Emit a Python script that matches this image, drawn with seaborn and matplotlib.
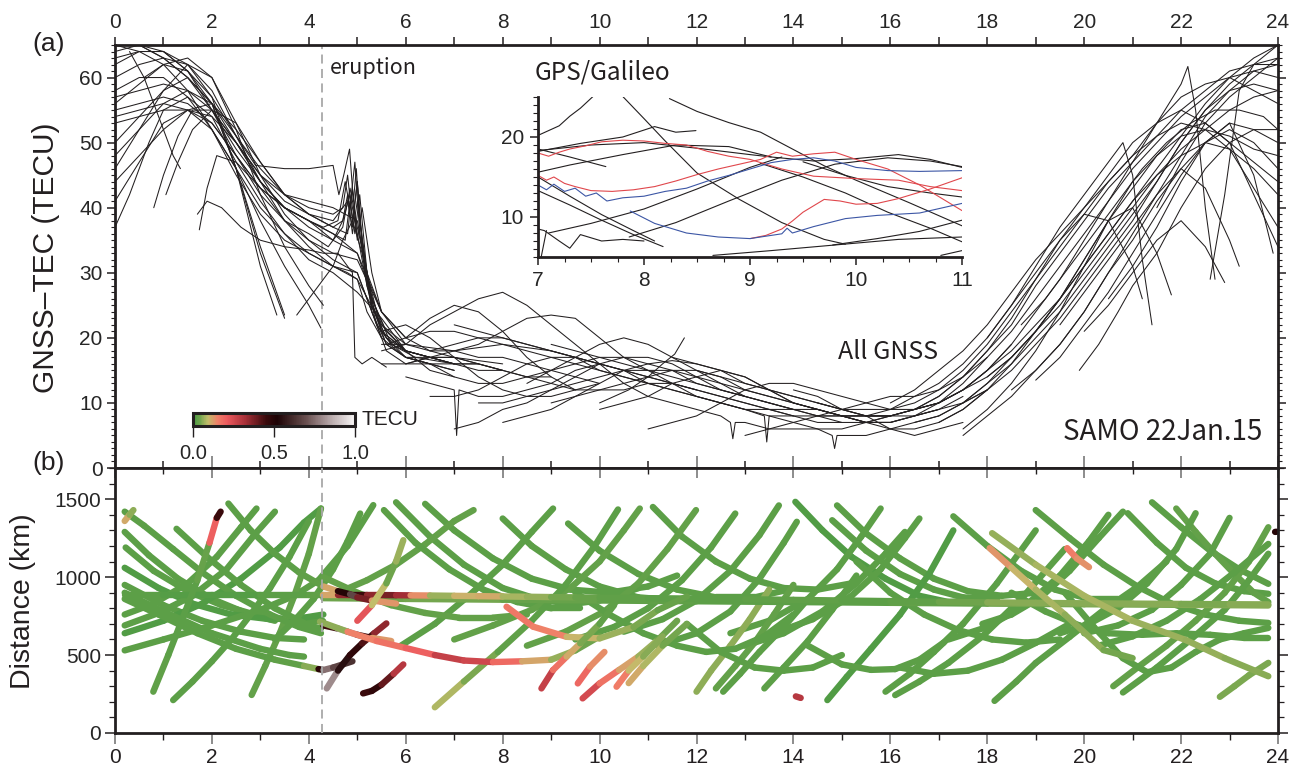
import matplotlib
matplotlib.use("Agg")
import numpy as np
import pandas as pd
import matplotlib.pyplot as plt
import seaborn as sns
from matplotlib.colors import LinearSegmentedColormap, Normalize
from matplotlib.collections import LineCollection
from matplotlib.ticker import MultipleLocator
from matplotlib.colorbar import ColorbarBase

sns.set_theme(style="ticks")
plt.rcParams['font.family'] = ['Liberation Sans', 'DejaVu Sans']

INK = '#231f20'
ERUPTION_UT = 4.27
TICK_FS = 15

# ---------------- (a) GNSS-TEC, all satellites (hour UT, TECU) ----------------
tec_night = [
    ([0, .5, 1, 1.5, 2, 2.5, 3, 3.5, 4, 4.3, 4.6, 4.75, 4.85, 4.95, 5.05, 5.2, 5.4, 5.7, 6, 6.5, 7, 7.5],
     [65, 65, 63, 60, 55, 49, 44, 40, 38, 37, 38, 44, 40, 47, 36, 28, 22, 19, 18, 17, 16, 16]),
    ([0, .5, 1, 1.5, 2, 2.5, 3, 3.5, 4, 4.4, 4.7, 4.85, 5.0, 5.15, 5.35, 5.6, 6, 6.5, 7, 7.5, 8],
     [62, 64, 64, 61, 55, 48, 42, 38, 36, 34, 37, 43, 37, 32, 24, 20, 18, 17, 17, 16, 15]),
    ([0, .5, 1, 1.5, 2, 2.5, 3, 3.5], [56, 59, 62, 61, 56, 46, 34, 23.5]),
    ([0, .5, 1, 1.5, 2, 2.5, 3, 3.34], [50, 54, 58, 60, 56, 46, 31, 23.5]),
    ([0, .5, 1, 1.5, 2, 2.5, 3, 3.5, 4, 4.25], [54, 55, 56, 55, 52, 46, 38, 31, 25, 21.5]),
    ([0, .5, 1, 1.5, 2, 2.5, 3, 3.5, 4, 4.5, 4.8, 5.0, 5.2, 5.5, 6, 6.5, 7],
     [58, 60, 60, 57, 52, 46, 40, 36, 33, 31, 30, 29, 24, 20, 17, 16, 15]),
    ([0, .5, 1, 1.5, 2, 2.5, 3, 3.5, 4, 4.5, 4.7, 4.8, 4.9, 5.0, 5.2, 5.5, 6, 6.5, 7, 7.5, 8, 8.5, 9],
     [53, 54, 55, 55, 54, 50, 44, 40, 37, 35, 38, 42, 36, 41, 30, 21, 18, 17, 16, 16, 15, 14, 14]),
    ([0, .3, .7, 1, 1.5, 2, 2.5, 3, 3.5, 4, 4.5, 5, 5.5, 6, 6.5, 7],
     [37, 42, 50, 55, 57, 54, 47, 41, 36, 32, 30, 27, 23, 18, 15, 14]),
    ([0, .5, 1, 1.5, 2, 2.5, 3, 3.5, 4, 4.5, 5, 5.5, 6], [41, 47, 53, 55, 53, 48, 43, 40, 38, 35, 33, 24, 19]),
    ([0, .5, 1, 1.5, 2, 2.5, 3, 3.5, 4, 4.5, 4.7, 4.8, 4.9, 5.0, 5.1, 5.3, 5.6, 6, 6.5],
     [44, 48, 52, 55, 56, 52, 47, 42, 40, 39, 40, 45, 38, 44, 35, 25, 19, 17, 17]),
    ([0, .5, 1, 1.5, 2, 2.5, 3, 3.5, 4, 4.5, 5, 5.3, 5.7, 6.2, 7],
     [48, 52, 56, 58, 56, 50, 45, 42, 41, 40, 38, 26, 19, 17, 16]),
    ([0, .5, 1, 1.5, 2, 2.5, 2.9, 3.5, 4, 4.5, 4.62, 4.72, 4.84, 4.92, 4.98, 5.05, 5.15, 5.3, 5.6, 6, 6.5, 7],
     [64, 65, 63, 60, 56, 51, 46.5, 46, 46, 46.5, 42, 45, 49, 41, 46, 38, 32, 26, 21, 18, 17, 16]),
    ([.3, .6, .9, 1.2, 1.35], [64, 60, 54, 48, 46]),
    ([.8, 1.0, 1.3, 1.6, 2, 2.5, 3, 3.5, 4, 4.5, 5, 5.5, 6], [40, 45, 51, 55, 55, 50, 44, 40, 38, 36, 33, 22, 18]),
    ([1.05, 1.3, 1.6, 2, 2.5, 3, 3.5, 4, 4.5, 4.8, 4.9, 5.0, 5.1, 5.3, 5.5],
     [42, 47, 52, 55, 53, 47, 42, 39, 37, 36, 43, 35, 40, 30, 24]),
    ([1.74, 1.9, 2.1, 2.5, 3, 3.5, 4, 4.5, 4.75, 4.85, 4.95, 5.05, 5.2, 5.5, 6],
     [36.6, 43, 48, 47, 43, 40, 38, 36, 35, 41, 36, 42, 30, 24, 20]),
    ([1.7, 1.9, 2.2, 2.6, 3, 3.5, 4, 4.3, 4.6, 4.9, 4.95, 5.1, 5.3, 5.6],
     [39, 41, 40, 37, 35, 34, 33.5, 33, 33, 30, 17, 16, 17, 15.5]),
    ([0, .5, 1, 1.5, 2, 2.5, 3, 3.5], [63, 64, 64, 62, 57, 46, 33, 23]),
    ([3.75, 4.0, 4.3, 4.5, 4.7, 4.9, 5.1, 5.3, 5.6, 6, 6.5, 7], [23.5, 26, 29, 31, 35, 38, 33, 25, 20, 17, 16, 15]),
    ([0, .5, 1, 1.5, 2, 2.5, 3, 3.5, 4, 4.5, 4.7, 4.85, 5.0, 5.2, 5.5, 6, 6.5, 7, 7.5, 8],
     [65, 65, 64, 61, 57, 51, 46, 42, 39, 37, 38, 42, 36, 28, 21, 18, 17, 16, 15, 15]),
    ([0, .5, 1, 1.5, 2, 2.5, 3, 3.5, 4, 4.5, 5, 5.5, 6, 6.5, 7, 7.5, 8, 8.5, 9, 9.5, 10],
     [55, 56, 57, 56, 53, 48, 43, 38, 34, 31, 29, 22, 19, 18, 18, 17, 17, 16, 15, 14, 13]),
    ([0, .5, 1, 1.5, 2, 2.5, 3, 3.5, 4, 4.5, 5, 5.5], [65, 64, 62, 58, 52, 45, 39, 35, 33, 31, 30, 20]),
    ([0, .5, 1, 1.5, 2, 2.5, 3, 3.5, 4, 4.5, 5, 5.5, 6, 6.5, 7, 8],
     [60, 62, 63, 62, 58, 51, 44, 38, 35, 33, 32, 24, 20, 18, 17, 16]),
    ([0, .5, 1, 1.5, 2, 2.5, 3, 3.5, 4, 4.5, 4.8, 4.9, 5.0, 5.1, 5.3, 5.6, 6, 6.5],
     [57, 58, 59, 58, 55, 50, 45, 41, 39, 38, 41, 37, 44, 34, 24, 18, 16, 16]),
    ([.6, 1, 1.5, 2, 2.5, 3, 3.5, 4, 4.5, 5, 5.3, 5.6, 6, 6.5, 7],
     [60, 62, 63, 60, 53, 45, 39, 35, 32, 30, 24, 19, 17, 16, 16]),
    ([0, .5, 1, 1.5, 2, 2.5, 3, 3.5, 4, 4.3], [46, 52, 58, 62, 60, 52, 42, 34, 28, 25]),
]

tec_day = [
    ([5.5, 6, 6.5, 7, 7.5, 8, 8.5, 9, 9.5, 10, 10.5, 11, 11.5, 12],
     [18, 19, 22, 24, 26, 27, 25, 22, 19, 16, 13, 11, 10, 9]),
    ([5.6, 6, 6.5, 7, 7.5, 8, 8.5, 9, 9.5], [19, 20, 23, 25, 24, 21, 17, 14, 12]),
    ([6, 6.5, 7, 7.5, 8, 8.5, 9, 9.5, 10, 10.5, 11, 11.5, 12, 12.5, 13],
     [16, 17, 18, 19, 21, 23, 23.5, 23, 20, 17, 15, 13, 11, 10, 9]),
    ([5.5, 6, 6.5, 7, 7.5, 8, 8.5, 9, 9.5, 10, 10.5, 11, 11.5, 12, 12.5, 13, 13.5, 14],
     [19, 19, 18.5, 18, 18.5, 19, 18.5, 18, 17, 16, 15, 14, 13, 12, 11, 10, 9, 9]),
    ([10.0, 10.3, 10.6, 11.0, 11.3, 11.55, 11.75], [10, 11, 12, 14, 16, 17.5, 20]),
    ([5.5, 6, 6.5, 7, 7.5, 8, 8.5, 9, 9.5, 10], [21, 22, 20, 17, 14, 12, 11, 11, 12, 13]),
    ([6.5, 7, 7.5, 8, 8.5, 9, 9.5, 10, 10.5, 11, 11.5, 12, 12.5, 13, 13.5, 14, 14.5, 15],
     [11, 11, 12, 14, 16, 17, 17, 16, 15, 13, 12, 11, 10, 9, 8, 8, 7, 7]),
    ([7, 7.5, 8, 8.5, 9, 9.5, 10, 10.5, 11, 11.5, 12, 12.5, 13, 13.5, 14, 14.5, 15, 15.5, 16],
     [6, 7, 9, 10, 12, 14, 16, 17, 17, 16, 14, 12, 11, 10, 9, 8, 7, 7, 8]),
    ([8, 8.5, 9, 9.5, 10, 10.5, 11, 11.5, 12, 12.5, 13, 13.5, 14, 14.5, 15, 15.5, 16, 16.5, 17],
     [7, 8, 9, 11, 13, 15, 16, 16.5, 16, 15, 14, 12, 10, 9, 8, 7, 7, 8, 9]),
    ([9, 9.5, 10, 10.5, 11, 11.5, 12, 12.5, 13, 13.5, 14, 14.5, 15, 15.5, 16, 16.5, 17, 17.5],
     [19, 18, 17, 16, 15, 15, 14, 13, 12, 11, 10, 9, 8, 7, 7, 8, 9, 11]),
    ([10, 10.5, 11, 11.5, 12, 12.5, 13, 13.5, 14, 14.5, 15, 15.5, 16, 16.5, 17, 17.5, 18],
     [9, 10, 11, 13, 14, 15, 14, 12, 10, 9, 8, 7, 6, 6, 7, 9, 12]),
    ([11, 11.5, 12, 12.5, 13, 13.5, 14, 14.5, 15, 15.5, 16, 16.5, 17, 17.5, 18, 18.5],
     [6, 7, 8, 10, 12, 13, 13, 12, 11, 10, 9, 9, 10, 12, 15, 19]),
    ([12, 12.5, 13, 13.5, 14, 14.5, 15, 15.5, 16, 16.5, 17], [15, 14, 12, 11, 10, 9, 8, 8, 8, 9, 10]),
    ([13, 13.5, 14, 14.5, 15, 15.5, 16, 16.5, 17, 17.5, 18], [5, 6, 7, 8, 9, 10, 11, 11, 12, 14, 17]),
    ([6, 6.5, 7, 7.5, 8, 8.5, 9, 9.5, 10, 10.5, 11, 11.5, 12, 12.5, 13],
     [17, 16, 14, 13, 13, 14, 15, 16, 17, 17, 16, 15, 13, 12, 11]),
    ([7, 7.5, 8, 8.5, 9, 9.5, 10, 10.5, 11, 11.5, 12, 12.5, 13, 13.5, 14, 14.5, 15],
     [22, 21, 20, 19, 18, 17, 16, 15, 14, 13, 12, 11, 10, 9, 8, 8, 8]),
    ([8.5, 9, 9.5, 10, 10.5, 11, 11.5, 12, 12.5, 13, 13.5, 14, 14.5, 15, 15.5, 16],
     [13, 15, 17, 19, 20, 19, 17, 15, 13, 11, 10, 9, 8, 8, 7, 7]),
    ([14, 14.5, 15, 15.5, 16, 16.5, 17, 17.5], [12, 11, 9, 8, 6, 5, 6, 7]),
    ([6, 6.5, 7, 7.05, 7.1, 7.5, 8, 8.5, 9, 9.5, 10], [14, 13, 12, 5, 12, 11, 11, 12, 13, 15, 16]),
    ([12, 12.5, 12.7, 12.75, 12.8, 13, 13.5, 14, 14.5, 15, 15.5, 16], [9, 8, 7, 4.5, 7, 7, 6, 6, 6, 6, 7, 8]),
    ([13, 13.4, 13.45, 13.5, 14, 14.5, 14.8, 14.85, 14.9, 15.5, 16, 16.5, 17],
     [9, 8, 4, 8, 7, 6, 5, 3, 5, 5, 6, 7, 8]),
    ([6, 6.5, 7, 7.5, 8, 8.5, 9, 9.5, 10, 10.5, 11, 11.5, 12, 12.5, 13, 13.5, 14],
     [20, 21, 21, 20, 19, 18, 17, 16, 15, 14, 13, 12, 11, 10, 9, 9, 8]),
    ([5.5, 6, 6.5, 7, 7.5, 8, 8.5, 9, 9.5, 10, 10.5, 11, 11.5, 12],
     [16, 16, 17, 17, 16, 15, 14, 13, 12, 12, 12, 13, 13, 12]),
    ([7.5, 8, 8.5, 9, 9.5, 10, 10.5, 11, 11.5, 12, 12.5, 13, 13.5, 14, 14.5, 15, 15.5, 16, 16.5],
     [10, 10, 11, 12, 13, 14, 15, 15, 14, 13, 12, 11, 10, 9, 9, 8, 8, 8, 9]),
    ([9, 9.5, 10, 10.5, 11, 11.5, 12, 12.5, 13, 13.5, 14, 14.5, 15, 15.5, 16, 16.5, 17, 17.5, 18],
     [10, 11, 12, 13, 14, 15, 15, 14, 13, 12, 11, 10, 9, 8, 8, 8, 9, 10, 12]),
    ([14.5, 15, 15.5, 16, 16.5, 17, 17.5, 18, 18.5], [10, 9, 8, 8, 9, 10, 12, 14, 17]),
    ([11.5, 12, 12.5, 13, 13.5, 14, 14.5, 15, 15.5, 16], [17, 16, 15, 13, 12, 11, 10, 9, 9, 9]),
    ([6.5, 7, 7.5, 8, 8.5, 9, 9.5, 10, 10.5, 11], [18, 19, 20, 20, 19, 18, 17, 15, 14, 13]),
]

tec_evening = [
    ([16, 16.5, 17, 17.5, 18, 18.5, 19, 19.5, 20, 20.5, 21, 21.5, 22, 22.5, 23, 23.5, 24],
     [8, 9, 11, 14, 18, 22, 28, 33, 38, 43, 47, 51, 55, 58, 61, 62, 62]),
    ([15.5, 16, 16.5, 17, 17.5, 18, 18.5, 19, 19.5, 20, 20.5, 21, 21.5, 22, 22.5, 23, 23.5, 24],
     [7, 7, 8, 10, 13, 17, 21, 26, 31, 36, 41, 46, 50, 54, 57, 60, 61, 60]),
    ([16.5, 17, 17.5, 18, 18.5, 19, 19.5, 20, 20.5, 21, 21.5, 22, 22.5, 23, 23.5, 24],
     [7, 8, 10, 13, 17, 21, 26, 31, 36, 41, 46, 51, 56, 60, 63, 65]),
    ([17, 17.5, 18, 18.5, 19, 19.5, 20, 20.5, 21, 21.5, 22, 22.5, 23, 23.5, 24],
     [8, 10, 12, 15, 19, 23, 28, 33, 38, 44, 50, 55, 58, 59, 58]),
    ([17.5, 18, 18.5, 19, 19.5, 20, 20.5, 21, 21.5, 22, 22.5, 23, 23.5, 24],
     [5, 8, 11, 15, 19, 24, 30, 36, 42, 48, 54, 58, 61, 62]),
    ([15, 15.5, 16, 16.5, 17, 17.5, 18, 18.5, 19, 19.5, 20, 20.5, 21, 21.5, 22, 22.5, 23, 23.5, 24],
     [8, 8, 9, 11, 13, 16, 20, 25, 30, 35, 40, 45, 50, 53, 55, 53, 50, 47, 44]),
    ([16, 16.5, 17, 17.5, 18, 18.5, 19, 19.5, 20, 20.5, 21, 21.5, 22, 22.5, 23, 23.5, 24],
     [9, 10, 12, 15, 19, 24, 29, 34, 39, 44, 48, 51, 53, 52, 49, 43, 37]),
    ([18, 18.5, 19, 19.5, 20, 20.5, 20.8, 21, 21.2, 21.4], [20, 25, 31, 37, 42, 47, 50, 45, 32, 22]),
    ([17, 17.5, 18, 18.5, 19, 19.5, 20, 20.5, 21, 21.5, 22, 22.14, 22.3, 22.5, 22.7],
     [10, 12, 15, 19, 24, 29, 35, 41, 47, 53, 59, 61.7, 55, 40, 29]),
    ([19.0, 19.5, 20, 20.5, 21, 21.5, 22, 22.5, 23, 23.5, 24], [13.5, 17, 22, 27, 33, 39, 45, 50, 53, 52, 50]),
    ([19.9, 20.3, 20.7, 21, 21.5, 22, 22.5, 23, 23.5, 24], [15, 19, 24, 28, 33, 40, 46, 50, 52, 52]),
    ([17.5, 18, 18.5, 19, 19.5, 20, 20.5, 21, 21.5, 21.8], [6, 9, 13, 18, 24, 31, 38, 40, 33, 26.6]),
    ([16.5, 17, 17.5, 18, 18.5, 19, 19.5, 20, 20.5, 21, 21.2], [9, 11, 14, 18, 23, 29, 35, 39, 38, 31, 26]),
    ([18.5, 19, 19.5, 20, 20.5, 21, 21.5, 22, 22.5, 23, 23.5, 24], [12, 15, 19, 24, 30, 35, 41, 46, 50, 52, 50, 46]),
    ([20, 20.5, 21, 21.5, 22, 22.5, 22.9], [21, 25, 30, 35, 38, 34, 28.5]),
    ([19.5, 20, 20.5, 21, 21.5, 22, 22.5, 23, 23.2], [22, 27, 32, 37, 42, 46, 43, 35, 31]),
    ([20.5, 21, 21.5, 22, 22.5, 23, 23.5, 23.9], [26, 31, 37, 44, 50, 53, 45, 33]),
    ([21.5, 22, 22.5, 23, 23.5, 24], [40, 47, 53, 57, 60, 63]),
    ([22.6, 22.9, 23.2, 23.5, 24], [29, 42, 58, 62, 65]),
    ([16, 16.5, 17, 17.5, 18, 18.5, 19, 19.5, 20, 20.5, 21, 21.5, 22, 22.5, 23, 23.5, 24],
     [10, 12, 15, 18, 22, 27, 32, 36, 40, 44, 48, 53, 57, 59, 60, 58, 56]),
    ([17, 17.5, 18, 18.5, 19, 19.5, 20, 20.5, 21, 21.5, 22, 22.5, 23, 23.5, 24],
     [7, 9, 12, 16, 21, 26, 32, 38, 43, 48, 52, 53, 50, 42, 34]),
    ([18.5, 19, 19.5, 20, 20.5, 21, 21.5, 22, 22.5, 23, 23.5, 24], [17, 21, 26, 32, 38, 44, 48, 51, 52, 51, 49, 48]),
    ([16.5, 17, 17.5, 18, 18.5, 19, 19.5, 20, 20.5, 21, 21.5, 22, 22.5, 23, 23.5, 24],
     [9, 10, 12, 15, 18, 22, 26, 31, 36, 41, 45, 48, 50, 49, 46, 42]),
    ([17.5, 18, 18.5, 19, 19.5, 20, 20.5, 21, 21.5, 22, 22.5, 23, 23.5, 24],
     [10, 13, 16, 20, 24, 29, 34, 39, 44, 50, 55, 59, 62, 63]),
    ([18, 18.5, 19, 19.5, 20, 20.5, 21, 21.5, 22, 22.5, 23, 23.5, 24],
     [14, 17, 21, 25, 30, 35, 40, 45, 49, 52, 55, 57, 58]),
    ([18.7, 19.2, 19.7, 20.2, 20.7, 21.2, 21.7, 22.2, 22.7, 23.2, 23.7, 24],
     [22, 26, 31, 36, 41, 46, 50, 53, 55, 55, 54, 52]),
]

# ---------------- inset: GPS/Galileo, 7-11 UT ----------------
inset_black = [
    ([7.0, 7.1, 7.2, 7.3, 7.4, 7.53], [20.2, 20.8, 21.4, 22.6, 23.6, 25.2]),
    ([7.79, 8.0, 8.2, 8.5, 8.9, 9.3, 9.7, 9.9], [25.2, 22.3, 19.5, 15.5, 12.2, 9.3, 7.2, 6.6]),
    ([8.24, 8.5, 8.8, 9.1, 9.4, 9.7, 10.0, 10.5, 11.0], [24.8, 23.2, 21.8, 20.6, 18.5, 16.4, 14.6, 11.8, 8.9]),
    ([7.0, 7.4, 7.8, 8.1, 8.3, 8.49], [18.2, 19.2, 20.0, 21.3, 20.6, 20.8]),
    ([7.0, 7.3, 7.64], [18.5, 17.5, 16.3]),
    ([7.0, 7.5, 8.0, 8.5, 9.0, 9.2], [18.3, 19.0, 19.3, 18.6, 17.8, 17.5]),
    ([7.0, 7.3, 7.8, 8.3, 8.8, 9.2, 9.6, 10.0, 10.4, 10.7, 11.0],
     [15.6, 16.5, 17.8, 19.0, 18.8, 17.5, 17.0, 17.3, 17.8, 17.2, 16.2]),
    ([7.0, 7.3, 7.6, 7.9, 8.18], [13.3, 11.5, 9.6, 7.8, 6.3]),
    ([7.0, 7.3, 7.6, 7.9, 8.1], [15.0, 12.6, 10.3, 8.3, 7.0]),
    ([7.0, 7.06, 7.2, 7.3, 7.4, 7.6, 7.8, 8.0], [8.5, 8.3, 7.0, 6.1, 7.8, 7.0, 7.2, 7.0]),
    ([7.03, 7.08], [5.0, 8.3]),
    ([7.1, 7.5, 8.0, 8.5, 9.0, 9.3], [8.0, 9.2, 11.0, 13.5, 16.2, 17.5]),
    ([7.86, 8.3, 8.8, 9.3, 9.8, 10.3, 10.7, 11.0], [7.5, 9.3, 12.0, 14.6, 16.6, 17.4, 17.0, 16.3]),
    ([8.65, 9.2, 9.8, 10.4, 11.0], [5.2, 5.8, 6.5, 7.2, 7.5]),
    ([9.78, 10.2, 10.6, 11.0], [6.5, 7.3, 8.2, 9.6]),
    ([10.8, 11.0], [5.2, 5.8]),
    ([9.1, 9.5, 9.9, 10.3, 10.7, 11.0], [16.7, 15.0, 13.0, 10.6, 8.6, 6.9]),
    ([9.5, 9.9, 10.3, 10.7, 11.0], [16.9, 15.2, 13.8, 13.0, 12.5]),
]
inset_red = [
    ([7.0, 7.1, 7.2, 7.3, 7.45, 7.6, 7.8, 8.0, 8.2, 8.4, 8.6, 8.8, 9.0, 9.3, 9.6, 10.0, 10.4, 10.7, 11.0],
     [18.0, 17.6, 18.1, 18.5, 18.9, 19.4, 19.6, 19.5, 19.2, 19.0, 18.2, 17.6, 17.2, 16.0, 15.1, 14.8, 14.6, 13.8, 13.3]),
    ([7.0, 7.08, 7.15, 7.25, 7.35, 7.5, 7.7, 7.9, 8.1, 8.3, 8.5, 8.7, 8.9, 9.1, 9.25, 9.4, 9.6, 9.8, 10.0, 10.3, 10.6, 11.0],
     [15.2, 14.6, 15.0, 14.2, 13.8, 13.3, 13.2, 13.4, 13.8, 14.5, 15.3, 16.0, 16.6, 17.2, 18.1, 17.6, 17.9, 18.1, 17.2, 16.0, 14.0, 10.8]),
    ([9.0, 9.15, 9.3, 9.4, 9.5, 9.6, 9.7, 9.85, 10.0, 10.2, 10.4, 10.7, 11.0],
     [7.3, 7.7, 8.5, 9.5, 10.6, 11.4, 12.2, 12.0, 11.6, 11.7, 12.3, 13.5, 14.9]),
]
inset_blue = [
    ([7.0, 7.08, 7.15, 7.25, 7.35, 7.45, 7.55, 7.65, 7.8, 8.0, 8.2, 8.4, 8.6, 8.8, 9.0, 9.2, 9.4, 9.6, 9.8, 10.0, 10.3, 10.6, 11.0],
     [14.0, 13.4, 14.1, 13.2, 13.6, 12.6, 13.0, 12.0, 12.4, 12.6, 13.2, 13.6, 14.5, 15.2, 16.0, 16.8, 17.2, 17.4, 17.0, 16.2, 15.8, 15.7, 15.8]),
    ([7.87, 8.1, 8.4, 8.7, 9.0, 9.3, 9.35, 9.4, 9.6, 9.9, 10.2, 10.6, 11.0],
     [10.75, 9.2, 8.0, 7.5, 7.3, 7.9, 8.6, 8.0, 8.8, 9.8, 10.2, 10.5, 11.7]),
]

# ---------------- (b) IPP distance from station (hour UT, km, TEC anomaly) ----------------
ipp_green = [
    ([.2, .7, 1.3, 2.0, 2.7, 3.3], [1290, 1140, 990, 860, 770, 720], .02),
    ([.22, .8, 1.5, 2.2, 3.0, 3.7, 4.3], [1190, 1040, 910, 820, 750, 720, 720], .02),
    ([.2, .9, 1.6, 2.4, 3.2, 3.9, 4.3], [1060, 930, 830, 760, 730, 740, 760], .01),
    ([.2, 1.0, 1.8, 2.6, 3.3, 3.9], [950, 820, 720, 650, 610, 600], .02),
    ([.2, 1.0, 2.0, 3.0, 3.7, 4.2, 4.8, 5.33], [530, 600, 690, 790, 880, 980, 1200, 1462], .02),
    ([.2, 1.0, 1.8, 2.6, 3.4, 3.9, 4.25], [640, 720, 830, 990, 1190, 1350, 1440], .01),
    ([.2, .9, 1.6, 2.3, 2.9, 3.3], [690, 770, 880, 1050, 1280, 1420], .02),
    ([.2, .8, 1.5, 2.1, 2.6, 2.92], [760, 830, 960, 1130, 1320, 1440], .02),
    ([1.2, 1.6, 2.0, 2.4, 2.8, 3.2, 3.6, 4.0], [211, 330, 460, 600, 760, 930, 1130, 1360], .02),
    ([2.82, 3.1, 3.4, 3.7, 4.0, 4.25], [244, 430, 640, 880, 1150, 1440], .03),
    ([1.27, 1.9, 2.6, 3.3, 4.0, 4.25], [1310, 1130, 950, 800, 690, 670], .02),
    ([.2, .6, 1.2, 1.8, 2.5, 3.2, 3.8, 4.25], [1420, 1330, 1180, 1030, 880, 760, 680, 640], .02),
    ([.2, 1.0, 2.0, 3.0, 3.6, 3.9], [900, 780, 640, 540, 500, 490], .02),
    ([3.3, 3.7, 4.1, 4.5, 4.8, 5.06], [600, 720, 860, 1050, 1230, 1408], .02),
    ([5.8, 6.5, 7.2, 8.0, 8.8, 9.5, 10.2, 10.8], [1480, 1260, 1080, 930, 850, 830, 860, 930], .02),
    ([6.4, 7.0, 7.8, 8.6, 9.4, 10.2, 11.0, 11.6], [1470, 1300, 1120, 990, 920, 900, 940, 1010], .02),
    ([4.6, 5.2, 5.8, 6.4, 7.0, 7.4], [900, 980, 1080, 1210, 1360, 1430], .03),
    ([5.9, 6.6, 7.3, 8.0, 8.6, 9.04], [560, 700, 880, 1080, 1290, 1440], .02),
    ([5.55, 6.2, 6.9, 7.6, 8.3, 9.0, 9.6], [1430, 1220, 1050, 920, 840, 800, 800], .02),
    ([8.0, 8.6, 9.3, 10.0, 10.8, 11.6, 12.3], [1376, 1200, 1050, 940, 870, 850, 870], .02),
    ([9.35, 10.0, 10.8, 11.6, 12.4, 13.2, 13.9], [1344, 1170, 1020, 920, 870, 870, 920], .02),
    ([7.0, 7.8, 8.6, 9.4, 10.0, 10.5, 10.83], [600, 690, 790, 930, 1100, 1300, 1440], .03),
    ([11.1, 11.7, 12.4, 13.1, 13.8, 14.5, 15.2], [1450, 1260, 1100, 990, 930, 920, 960], .02),
    ([8.5, 9.3, 10.1, 10.8, 11.4, 11.99], [560, 650, 780, 960, 1180, 1430], .03),
    ([9.5, 10.3, 11.0, 11.7, 12.3, 12.8], [600, 680, 800, 980, 1190, 1408], .02),
    ([10.5, 11.3, 12.0, 12.7, 13.3, 13.7], [650, 730, 850, 1040, 1270, 1460], .02),
    ([14.04, 14.6, 15.2, 15.9, 16.6, 17.2, 17.8], [1483, 1300, 1130, 990, 880, 840, 850], .01),
    ([11.2, 12.0, 12.7, 13.3, 13.8, 14.07], [560, 640, 780, 990, 1220, 1355], .02),
    ([14.9, 15.5, 16.2, 16.9, 17.6, 18.3, 19.0], [1460, 1280, 1120, 990, 910, 880, 900], .02),
    ([12.7, 13.5, 14.3, 14.9, 15.4, 15.8], [640, 720, 860, 1050, 1260, 1440], .02),
    ([14.8, 15.5, 16.2, 16.9, 17.5, 18.2], [1365, 1170, 1020, 920, 870, 860], .02),
    ([13.0, 13.8, 14.6, 15.3, 15.9, 16.3], [560, 640, 780, 960, 1150, 1290], .02),
    ([13.6, 14.4, 15.2, 15.8, 16.3, 16.6], [640, 730, 880, 1050, 1250, 1376], .02),
    ([12.0, 12.3, 12.7, 13.1, 13.5], [265, 400, 560, 730, 920], .06),
    ([12.4, 12.8, 13.2, 13.6, 14.0], [286, 430, 580, 760, 950], .03),
    ([12.55, 12.9, 13.3, 13.8, 14.3], [265, 380, 520, 680, 860], .02),
    ([13.4, 13.8, 14.3, 14.8, 15.3], [286, 420, 590, 790, 1010], .02),
    ([14.7, 15.1, 15.6, 16.2, 16.8, 17.3], [211, 360, 540, 760, 1020, 1300], .01),
    ([15.9, 16.4, 16.9, 17.5, 18.2, 19.0], [265, 380, 520, 700, 960, 1300], .02),
    ([16.1, 16.6, 17.2, 17.9, 18.7, 19.6], [243, 330, 450, 620, 860, 1180], .02),
    ([17.3, 18.0, 18.7, 19.4, 20.1, 20.7], [1390, 1200, 1040, 920, 860, 860], .02),
    ([18.15, 18.6, 19.0, 19.7, 20.4, 21.1, 21.7], [206, 330, 449, 617, 788, 938, 1100], .02),
    ([17.2, 18.0, 18.8, 19.5, 20.1, 20.5], [600, 680, 820, 1010, 1230, 1400], .02),
    ([19.0, 19.7, 20.4, 21.1, 21.8, 22.5, 23.2, 23.8], [1430, 1250, 1080, 940, 830, 760, 720, 706], .02),
    ([20.9, 21.5, 22.1, 22.7, 23.3, 23.8], [1410, 1220, 1060, 960, 910, 893], .02),
    ([21.4, 22.0, 22.6, 23.2, 23.8], [1480, 1320, 1170, 1050, 957], .02),
    ([21.9, 22.3, 22.7, 23.1, 23.5, 23.8], [1440, 1290, 1150, 1020, 900, 840], .03),
    ([17.9, 18.5, 19.1, 19.7, 20.3, 20.8], [700, 760, 870, 1040, 1250, 1420], .02),
    ([19.5, 20.1, 20.7, 21.3, 21.9, 22.3], [640, 700, 800, 960, 1180, 1410], .02),
    ([20.0, 20.7, 21.4, 22.0, 22.6, 23.0], [640, 690, 790, 950, 1150, 1380], .02),
    ([20.6, 21.1, 21.7, 22.3, 22.9, 23.4, 23.8], [300, 420, 560, 720, 900, 1100, 1320], .03),
    ([22.8, 23.1, 23.4, 23.8], [232, 300, 370, 450], .05),
    ([19.6, 20.2, 20.8, 21.3, 21.8, 22.3, 22.8, 23.3, 23.8], [900, 680, 480, 390, 420, 520, 600, 640, 674], .02),
    ([18.5, 19.2, 19.9, 20.5, 21.2, 21.9, 22.6, 23.3, 23.8], [900, 780, 690, 640, 630, 640, 630, 610, 610], .02),
    ([20.3, 21.0, 21.7, 22.4, 23.1, 23.8], [560, 620, 720, 860, 1030, 1213], .02),
    ([20.8, 21.5, 22.2, 22.9, 23.4, 23.8], [260, 420, 600, 790, 980, 1150], .02),
    ([9.5, 10.2, 10.9, 11.6, 12.2, 12.8, 13.4, 14.0], [900, 760, 640, 560, 520, 540, 620, 760], .02),
    ([11.8, 12.5, 13.2, 13.8, 14.4, 15.0], [700, 520, 420, 400, 420, 500], .02),
    ([14.3, 15.0, 15.6, 16.1, 16.6, 17.1], [560, 440, 405, 410, 470, 580], .02),
    ([16.2, 16.9, 17.6, 18.3, 19.0, 19.7], [420, 380, 400, 470, 578, 700], .02),
    ([15.3, 16.0, 16.7, 17.4, 18.1, 18.8, 19.5], [1100, 900, 760, 660, 600, 580, 600], .02),
    ([4.3, 5.0, 5.7, 6.4, 7.1, 7.8, 8.5], [1000, 900, 820, 770, 740, 740, 760], .03),
    ([6.6, 7.2, 7.9, 8.6, 9.3, 9.9, 10.38], [165, 330, 520, 720, 950, 1200, 1434],
     [.09, .07, .03, .02, .02, .02, .02]),
]

# horizontal (geostationary) tracks
geo_t = [.2, 1, 2, 3, 4, 4.3, 4.6, 4.9, 5.2, 5.5, 5.8, 6.1, 6.5, 7, 7.5, 8, 8.5, 9, 9.5, 10,
         11, 12, 13, 14, 15, 16, 17, 18, 19, 20, 21, 22, 23, 23.8]
geo_d = [885, 885, 885, 885, 885, 885, 885, 885, 885, 885, 884, 883, 882, 880, 878, 876, 874, 872, 870, 868,
         865, 862, 858, 854, 850, 846, 842, 838, 835, 832, 830, 828, 826, 825]
geo_a = [.02, .02, .01, .02, .02, .03, .2, .5, .4, .3, .45, .2, .08, .06, .15, .07, .08, .05, .04, .03,
         .02, .02, .02, .03, .02, .02, .03, .05, .06, .05, .06, .05, .05, .06]
geo2_t = [4.3, 6, 8, 10, 12, 14, 16, 18, 20, 22, 23.8]
geo2_d = [865, 860, 855, 850, 845, 840, 835, 830, 826, 822, 818]
geo2_a = [.03, .05, .04, .03, .02, .02, .02, .04, .05, .05, .06]

ipp_disturbed = [
    ([.2, .3, .38], [1360, 1400, 1430], [.15, .07, .05]),
    ([.79, 1.1, 1.4, 1.7, 1.95, 2.1, 2.18], [265, 500, 740, 980, 1220, 1380, 1420], [.03, .02, .02, .02, .05, .35, .55]),
    ([.2, .9, 1.7, 2.5, 3.3, 3.9, 4.2, 4.3, 4.5, 4.7, 4.9], [860, 760, 640, 540, 470, 430, 410, 404, 420, 440, 460],
     [.02, .02, .02, .02, .02, .03, .08, .9, .6, .75, .5]),
    ([2.34, 2.8, 3.3, 3.8, 4.3, 4.6, 4.85, 5.0, 5.3, 5.8], [1472, 1300, 1150, 1030, 940, 910, 890, 870, 850, 830],
     [.02, .02, .02, .02, .03, .2, .8, .55, .2, .06]),
    ([4.37, 4.6, 4.85, 5.1, 5.35, 5.6], [286, 400, 500, 575, 640, 703], [1.0, .6, .5, .45, .4, .3]),
    ([5.0, 5.3, 5.6, 5.8, 5.95], [720, 820, 960, 1100, 1237], [.3, .15, .03, .05, .09]),
    ([4.3, 4.6, 4.8, 5.0, 5.3, 5.7], [690, 670, 650, 630, 610, 590], [.1, .8, .9, .7, .2, .05]),
    ([4.23, 4.8, 5.4, 6.0, 6.6, 7.2, 7.8, 8.4, 9.0, 9.5, 10.0], [714, 650, 590, 545, 500, 465, 455, 460, 470, 530, 620],
     [.02, .1, .2, .15, .25, .3, .22, .15, .08, .05, .03]),
    ([8.08, 8.63, 9.32, 10.0, 10.7, 11.2, 11.8], [810, 682, 617, 607, 680, 788, 876], [.15, .18, .12, .08, .06, .04, .03]),
    ([5.12, 5.3, 5.5, 5.75, 5.95], [254, 270, 310, 380, 440], [.4, .5, .45, .35, .25]),
    ([8.8, 9.04, 9.32, 9.6, 10.0, 10.3], [286, 404, 490, 575, 700, 820], [.35, .2, .15, .07, .03, .02]),
    ([9.55, 9.8, 10.1], [318, 425, 520], [.2, .18, .1]),
    ([9.65, 10.0, 10.4, 10.8, 11.2, 11.6], [222, 318, 404, 490, 596, 720], [.3, .2, .15, .09, .05, .03]),
    ([10.35, 10.6, 10.9, 11.3], [297, 400, 490, 620], [.2, .12, .07, .04]),
    ([10.6, 10.9, 11.3, 11.8], [320, 430, 560, 700], [.12, .1, .06, .03]),
    ([14.05, 14.15], [235, 225], [.3, .3]),
    ([18.05, 18.5, 19.0, 19.6, 20.4, 21.0], [1186, 1060, 920, 760, 532, 480], [.14, .12, .08, .07, .05, .04]),
    ([18.1, 19.0, 20.0, 21.0, 22.1, 22.9, 23.8], [1282, 1080, 880, 720, 596, 480, 364], [.06, .07, .08, .07, .07, .06, .05]),
    ([19.65, 19.85, 20.1], [1186, 1120, 1064], [.17, .15, .12]),
    ([23.94, 23.97], [1290, 1291], [.5, .5]),
]

# ---------------- colour scale for the TEC anomaly ----------------
anom_nodes = [0.0, 0.04, 0.09, 0.15, 0.21, 0.32, 0.45, 0.52, 0.7, 0.85, 1.0]
anom_colors = ['#4a9a43', '#6fa44c', '#c2bd6a', '#f08068', '#ec5a5e', '#a83038', '#3a0a0c',
               '#1c0204', '#6a5050', '#b8a8aa', '#f8f6f6']
tecu_cmap = LinearSegmentedColormap.from_list('tecu', list(zip(anom_nodes, anom_colors)))
tecu_norm = Normalize(0, 1)


def tracks_frame(tracks, group):
    rows = []
    for k, (t, v) in enumerate(tracks):
        for ti, vi in zip(t, v):
            rows.append((f'{group}{k}', group, ti, vi))
    return pd.DataFrame(rows, columns=['track', 'group', 'hour', 'tec'])


W, H = 1301, 770
fig = plt.figure(figsize=(W / 100, H / 100), dpi=100)


def px_axes(x0, y0, x1, y1):
    return fig.add_axes([x0 / W, 1 - y1 / H, (x1 - x0) / W, (y1 - y0) / H])


ax_a = px_axes(115, 45, 1278, 468)
ax_b = px_axes(115, 468, 1278, 733)

# ---- panel (a) ----
tec_df = pd.concat([tracks_frame(tec_night, 'n'), tracks_frame(tec_day, 'd'),
                    tracks_frame(tec_evening, 'e')], ignore_index=True)
sns.lineplot(data=tec_df, x='hour', y='tec', units='track', estimator=None, sort=False,
             color=INK, lw=0.75, ax=ax_a, legend=False)
ax_a.set_xlim(0, 24)
ax_a.set_ylim(0, 65)
ax_a.set_xlabel('')
ax_a.set_ylabel('')
ax_a.axvline(ERUPTION_UT, color='#a8a8a8', lw=1.3, dashes=(5, 3), zorder=1)

# ---- panel (b) ----
segs, vals = [], []
for t, d, a in ipp_green + [(geo2_t, geo2_d, geo2_a), (geo_t, geo_d, geo_a)] + ipp_disturbed:
    av = a if isinstance(a, list) else [a] * len(t)
    for i in range(len(t) - 1):
        segs.append([(t[i], d[i]), (t[i + 1], d[i + 1])])
        vals.append(0.5 * (av[i] + av[i + 1]))
lc = LineCollection(segs, cmap=tecu_cmap, norm=tecu_norm, linewidths=4.6, capstyle='round', joinstyle='round')
lc.set_array(np.array(vals))
ax_b.add_collection(lc)
ax_b.set_xlim(0, 24)
ax_b.set_ylim(0, 1700)
ax_b.axvline(ERUPTION_UT, color='#a8a8a8', lw=1.3, dashes=(5, 3), zorder=3)

# ---- frames and ticks ----
for ax in (ax_a, ax_b):
    for s in ax.spines.values():
        s.set_linewidth(2.0)
        s.set_color(INK)
    ax.xaxis.set_major_locator(MultipleLocator(2))
    ax.xaxis.set_minor_locator(MultipleLocator(1))

ax_a.yaxis.set_major_locator(MultipleLocator(10))
ax_a.yaxis.set_minor_locator(MultipleLocator(1))
ax_a.tick_params(axis='x', which='both', top=True, bottom=False, labeltop=True, labelbottom=False,
                 direction='out', length=6, width=1.1, color=INK, labelsize=TICK_FS, pad=3)
ax_a.tick_params(axis='y', which='major', left=True, right=True, direction='out', length=6, width=1.1,
                 color=INK, labelsize=TICK_FS, pad=3)
ax_a.tick_params(axis='y', which='minor', left=True, right=True, direction='out', length=3, width=0.8, color=INK)
sec_a = ax_a.secondary_xaxis('bottom')
sec_a.xaxis.set_major_locator(MultipleLocator(2))
sec_a.xaxis.set_minor_locator(MultipleLocator(1))
sec_a.tick_params(which='major', direction='in', length=9, width=1.4, color='#8c8c8c', labelbottom=False)
sec_a.tick_params(which='minor', direction='in', length=5, width=1.1, color=INK)
sec_a.spines['bottom'].set_visible(False)

ax_b.yaxis.set_major_locator(MultipleLocator(500))
ax_b.yaxis.set_minor_locator(MultipleLocator(100))
ax_b.tick_params(axis='x', which='major', direction='out', length=8, width=1.4, color='#8c8c8c',
                 labelsize=TICK_FS, labelcolor=INK, pad=3)
ax_b.tick_params(axis='x', which='minor', direction='out', length=5, width=1.0, color=INK)
ax_b.tick_params(axis='y', which='major', left=True, right=True, direction='out', length=7, width=1.1,
                 color=INK, labelsize=TICK_FS, pad=3)
ax_b.tick_params(axis='y', which='minor', left=True, right=True, direction='out', length=4, width=0.9, color=INK)
sec_b = ax_b.secondary_xaxis('top')
sec_b.xaxis.set_major_locator(MultipleLocator(2))
sec_b.xaxis.set_minor_locator(MultipleLocator(1))
sec_b.tick_params(which='major', direction='in', length=7, width=1.4, color='#8c8c8c', labeltop=False)
sec_b.tick_params(which='minor', direction='in', length=4, width=1.0, color=INK)
sec_b.spines['top'].set_visible(False)

# ---- inset ----
ax_in = px_axes(538, 97, 962, 257)
ax_in.patch.set_alpha(0)
in_df = pd.concat([tracks_frame(inset_black, 'black'), tracks_frame(inset_red, 'red'),
                   tracks_frame(inset_blue, 'blue')], ignore_index=True)
sns.lineplot(data=in_df, x='hour', y='tec', units='track', hue='group', estimator=None, sort=False,
             palette={'black': INK, 'red': '#e0474c', 'blue': '#3c56a5'}, lw=0.8, ax=ax_in, legend=False)
ax_in.set_xlim(7, 11)
ax_in.set_ylim(5, 25)
ax_in.set_xlabel('')
ax_in.set_ylabel('')
ax_in.spines['top'].set_visible(False)
ax_in.spines['right'].set_visible(False)
for s in ('left', 'bottom'):
    ax_in.spines[s].set_linewidth(2.0)
    ax_in.spines[s].set_color(INK)
ax_in.xaxis.set_major_locator(MultipleLocator(1))
ax_in.xaxis.set_minor_locator(MultipleLocator(0.25))
ax_in.yaxis.set_major_locator(MultipleLocator(10))
ax_in.yaxis.set_minor_locator(MultipleLocator(1))
ax_in.tick_params(which='major', direction='out', length=6, width=1.1, color=INK, labelsize=TICK_FS, pad=4)
ax_in.tick_params(which='minor', direction='out', length=3.5, width=0.8, color=INK)

# ---- colour bar ----
cax = px_axes(193, 413, 355, 426)
cb = ColorbarBase(cax, cmap=tecu_cmap, norm=tecu_norm, orientation='horizontal', ticks=[0, 0.5, 1.0])
cb.outline.set_linewidth(2.2)
cb.outline.set_edgecolor(INK)
cax.set_xticklabels(['0.0', '0.5', '1.0'])
cax.tick_params(direction='out', length=8, width=1.0, color=INK, labelsize=14.5, pad=5)

# ---- text ----
anno_font = ['Noto Sans CJK JP', 'DejaVu Sans']
fig.text(49 / W, 1 - 44 / H, '(a)', fontsize=19, ha='center', va='center', color=INK)
fig.text(49 / W, 1 - 463 / H, '(b)', fontsize=19, ha='center', va='center', color=INK)
fig.text(46 / W, 1 - 258 / H, 'GNSS\u2013TEC (TECU)', fontsize=21.5, rotation=90, ha='center', va='center', color=INK)
fig.text(23 / W, 1 - 601 / H, 'Distance (km)', fontsize=20.5, rotation=90, ha='center', va='center', color=INK)
fig.text(362 / W, 1 - 420 / H, 'TECU', fontsize=15, ha='left', va='center', color=INK)
fig.text(330 / W, 1 - 68 / H, 'eruption', fontsize=15.5, ha='left', va='center', color=INK, family=anno_font)
fig.text(535 / W, 1 - 72 / H, 'GPS/Galileo', fontsize=17.5, ha='left', va='center', color=INK, family=anno_font)
fig.text(838 / W, 1 - 352 / H, 'All GNSS', fontsize=18, ha='left', va='center', color=INK, family=anno_font)
fig.text(1262 / W, 1 - 432 / H, 'SAMO 22Jan.15', fontsize=20, ha='right', va='center', color=INK, family=anno_font)

fig.savefig('out.png', dpi=100)
